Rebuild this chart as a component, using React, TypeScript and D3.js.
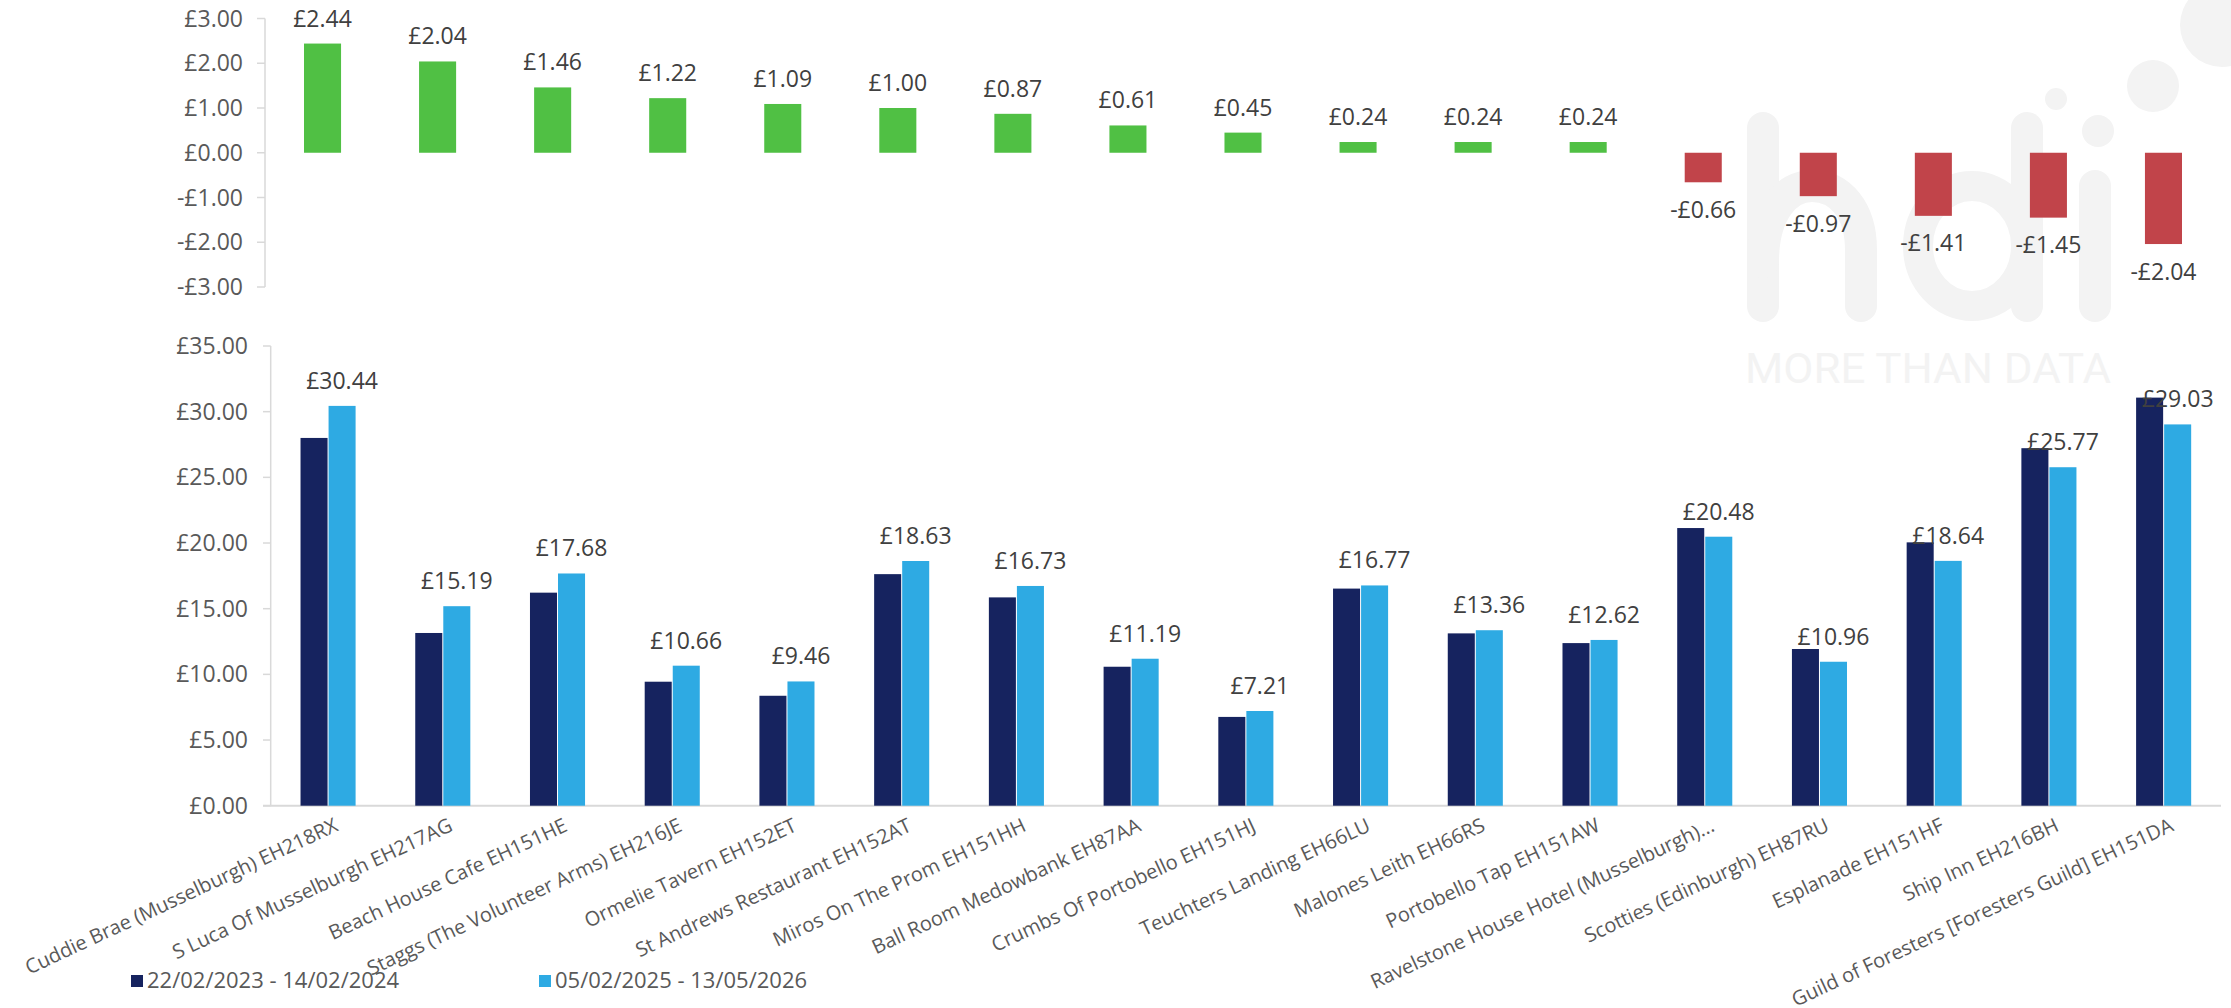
import React from "react";
import * as d3 from "d3";

const categories = [
  "Cuddie Brae (Musselburgh) EH218RX",
  "S Luca Of Musselburgh EH217AG",
  "Beach House Cafe EH151HE",
  "Staggs (The Volunteer Arms) EH216JE",
  "Ormelie Tavern EH152ET",
  "St Andrews Restaurant EH152AT",
  "Miros On The Prom EH151HH",
  "Ball Room Medowbank EH87AA",
  "Crumbs Of Portobello EH151HJ",
  "Teuchters Landing EH66LU",
  "Malones Leith EH66RS",
  "Portobello Tap EH151AW",
  "Ravelstone House Hotel (Musselburgh)...",
  "Scotties (Edinburgh) EH87RU",
  "Esplanade EH151HF",
  "Ship Inn EH216BH",
  "Guild of Foresters [Foresters Guild] EH151DA",
];

const diffValues = [2.44, 2.04, 1.46, 1.22, 1.09, 1.0, 0.87, 0.61, 0.45, 0.24, 0.24, 0.24, -0.66, -0.97, -1.41, -1.45, -2.04];
const prevValues = [28.0, 13.15, 16.22, 9.44, 8.37, 17.63, 15.86, 10.58, 6.76, 16.53, 13.12, 12.38, 21.14, 11.93, 20.05, 27.22, 31.07];
const currValues = [30.44, 15.19, 17.68, 10.66, 9.46, 18.63, 16.73, 11.19, 7.21, 16.77, 13.36, 12.62, 20.48, 10.96, 18.64, 25.77, 29.03];

const topTicks = [3, 2, 1, 0, -1, -2, -3];
const bottomTicks = [0, 5, 10, 15, 20, 25, 30, 35];
const seriesNames = ["22/02/2023 - 14/02/2024", "05/02/2025 - 13/05/2026"];

const FONT = "'Open Sans', 'Noto Sans', sans-serif";
const AXIS_COLOR = "#d9d9d9";
const TICK_TEXT = "#595959";
const LABEL_TEXT = "#404040";
const GREEN = "#50c044";
const RED = "#c1444a";
const NAVY = "#16235f";
const BLUE = "#2eaae3";
const WM = "#f3f3f3";

const fmt = (v: number) => (v < 0 ? "-£" : "£") + Math.abs(v).toFixed(2);

export default function App() {
  const W = 2231;
  const H = 1008;

  // top chart
  const xTop = d3.scaleBand<string>().domain(categories).range([265, 2221]).paddingInner(0.678).paddingOuter(0.339);
  const yTop = d3.scaleLinear().domain([-3, 3]).range([287, 18.5]);

  // bottom chart
  const xBot = d3.scaleBand<string>().domain(categories).range([270.7, 2221]).paddingInner(0.52).paddingOuter(0.26);
  const xSub = d3.scaleBand<string>().domain(["prev", "curr"]).range([0, xBot.bandwidth()]).paddingInner(0.036);
  const yBot = d3.scaleLinear().domain([0, 35]).range([805.7, 346]);

  return (
    <svg width={W} height={H} style={{ position: "absolute", left: 0, top: 0, background: "#fff" }} fontFamily={FONT}>
      <rect x={0} y={0} width={W} height={H} fill="#fff" />
      {/* watermark */}
      <g fill="none" stroke={WM} strokeWidth={32} strokeLinecap="round">
        <line x1={1763} y1={128} x2={1763} y2={306} />
        <path d="M1763,262 C1763,212 1786,186 1812,186 C1840,186 1861,210 1861,250 L1861,306" />
        <ellipse cx={1972} cy={246} rx={54} ry={60} strokeWidth={30} />
        <line x1={2027} y1={128} x2={2027} y2={306} />
        <line x1={2095} y1={186} x2={2095} y2={306} />
      </g>
      <g fill={WM}>
        <circle cx={2098} cy={131} r={16} />
        <circle cx={2056} cy={99} r={11} />
        <circle cx={2153} cy={86} r={26} />
        <circle cx={2222} cy={25} r={42} />
        <text x={1745} y={383} fontSize={42} fontFamily="Roboto, sans-serif" textLength={366} lengthAdjust="spacingAndGlyphs">
          MORE THAN DATA
        </text>
      </g>

      {/* top chart axis */}
      <line x1={265} y1={yTop(3)} x2={265} y2={yTop(-3)} stroke={AXIS_COLOR} strokeWidth={1.5} />
      {topTicks.map((t) => (
        <g key={"tt" + t}>
          <line x1={257} x2={265} y1={yTop(t)} y2={yTop(t)} stroke={AXIS_COLOR} strokeWidth={1.5} />
          <text x={243} y={yTop(t)} dy="0.35em" textAnchor="end" fontSize={23} fill={TICK_TEXT}>
            {fmt(t)}
          </text>
        </g>
      ))}
      {categories.map((c, i) => {
        const v = diffValues[i];
        const x = xTop(c)!;
        const y0 = yTop(0);
        const y1 = yTop(v);
        return (
          <g key={"tb" + i}>
            <rect x={x} y={Math.min(y0, y1)} width={xTop.bandwidth()} height={Math.abs(y1 - y0)} fill={v >= 0 ? GREEN : RED} />
            <text
              x={x + xTop.bandwidth() / 2}
              y={v >= 0 ? y1 - 17 : y1 + 35.5}
              textAnchor="middle"
              fontSize={23}
              fill={LABEL_TEXT}
            >
              {fmt(v)}
            </text>
          </g>
        );
      })}

      {/* bottom chart axis */}
      <line x1={270.7} y1={yBot(35)} x2={270.7} y2={yBot(0)} stroke={AXIS_COLOR} strokeWidth={1.5} />
      <line x1={263} y1={yBot(0)} x2={2221} y2={yBot(0)} stroke={AXIS_COLOR} strokeWidth={2} />
      {bottomTicks.map((t) => (
        <g key={"bt" + t}>
          <line x1={263} x2={270.7} y1={yBot(t)} y2={yBot(t)} stroke={AXIS_COLOR} strokeWidth={1.5} />
          <text x={248} y={yBot(t)} dy="0.35em" textAnchor="end" fontSize={23} fill={TICK_TEXT}>
            {fmt(t)}
          </text>
        </g>
      ))}
      {categories.map((c, i) => {
        const gx = xBot(c)!;
        const p = prevValues[i];
        const q = currValues[i];
        const cx = gx + xSub("curr")! + xSub.bandwidth() / 2;
        const center = gx + xBot.bandwidth() / 2;
        return (
          <g key={"bb" + i}>
            <rect x={gx + xSub("prev")!} y={yBot(p)} width={xSub.bandwidth()} height={yBot(0) - yBot(p)} fill={NAVY} />
            <rect x={gx + xSub("curr")!} y={yBot(q)} width={xSub.bandwidth()} height={yBot(0) - yBot(q)} fill={BLUE} />
            <text x={cx} y={yBot(q) - 17} textAnchor="middle" fontSize={23} fill={LABEL_TEXT}>
              {fmt(q)}
            </text>
            <text
              transform={`translate(${center + 4},${815}) rotate(-25)`}
              textAnchor="end"
              dominantBaseline="hanging"
              fontSize={20}
              fill={TICK_TEXT}
            >
              {c}
            </text>
          </g>
        );
      })}

      {/* legend */}
      <rect x={131} y={975} width={12} height={12} fill={NAVY} />
      <text x={147} y={988} fontSize={22} fill={TICK_TEXT}>
        {seriesNames[0]}
      </text>
      <rect x={539} y={975} width={12} height={12} fill={BLUE} />
      <text x={555} y={988} fontSize={22} fill={TICK_TEXT}>
        {seriesNames[1]}
      </text>
    </svg>
  );
}
